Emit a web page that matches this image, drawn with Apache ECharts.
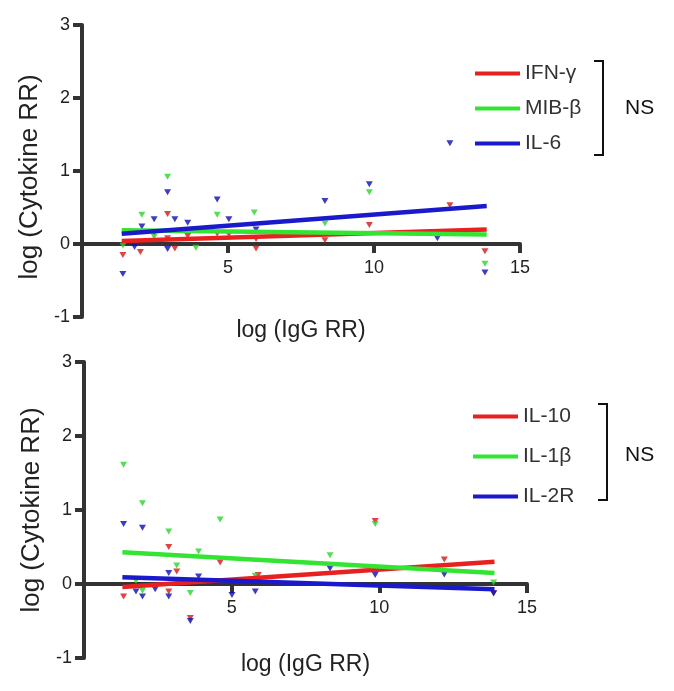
<!DOCTYPE html>
<html>
<head>
<meta charset="utf-8">
<script src="https://cdn.jsdelivr.net/npm/echarts@6/dist/echarts.min.js"></script>
<style>
html,body{margin:0;padding:0;background:#fff;}
#chart{width:674px;height:691px;}
</style>
</head>
<body>
<div id="chart"></div>
<script>
// ---------- data ----------
const xTicks = [0, 5, 10, 15];
const yTicks = [-1, 0, 1, 2, 3];
const xAxisTitle = 'log (IgG RR)';
const yAxisTitle = 'log (Cytokine RR)';

// top panel
const topNames = ['IFN-γ', 'MIB-β', 'IL-6'];
const ifnPts = [[1.4,-0.15],[2.0,-0.11],[2.47,0.15],[2.93,0.41],[2.93,0.08],[3.18,-0.06],[3.62,0.11],[4.63,0.14],[5.03,0.13],[5.96,0.07],[5.96,-0.06],[8.32,0.05],[9.84,0.26],[12.6,0.53],[13.8,-0.1]];
const mibPts = [[1.4,-0.02],[2.05,0.40],[2.47,0.1],[2.93,0.92],[3.9,-0.05],[4.63,0.40],[5.9,0.43],[8.32,0.28],[9.84,0.71],[13.8,-0.27]];
const il6Pts = [[1.4,-0.41],[1.8,-0.04],[2.05,0.24],[2.47,0.34],[2.93,0.71],[2.93,-0.07],[3.18,0.34],[3.62,0.29],[4.63,0.61],[5.03,0.34],[5.96,0.2],[8.32,0.59],[9.84,0.82],[12.17,0.08],[12.6,1.38],[13.8,-0.39]];
const topFitX = [1.36, 13.86];
const ifnFit = [0.04, 0.20];
const mibFit = [0.19, 0.13];
const il6Fit = [0.14, 0.52];

// bottom panel
const botNames = ['IL-10', 'IL-1β', 'IL-2R'];
const il10Pts = [[1.34,-0.17],[2.87,0.5],[2.87,-0.1],[3.14,0.17],[3.6,-0.46],[4.61,0.29],[5.9,0.12],[9.86,0.85],[12.2,0.33],[13.87,-0.12]];
const il1bPts = [[1.34,1.61],[1.76,0.04],[1.98,1.09],[1.98,-0.09],[2.87,0.71],[3.14,0.25],[3.6,-0.12],[3.88,0.44],[4.61,0.87],[5.8,0.11],[8.33,0.39],[9.86,0.81],[13.87,0.02]];
const il2rPts = [[1.34,0.81],[1.76,-0.1],[1.98,0.76],[1.98,-0.17],[2.41,-0.07],[2.87,0.15],[2.87,-0.17],[3.6,-0.5],[3.88,0.1],[5.01,-0.15],[5.8,-0.1],[8.33,0.21],[9.86,0.12],[12.2,0.13],[13.87,-0.13]];
const botFitX = [1.3, 13.9];
const il10Fit = [-0.04, 0.30];
const il1bFit = [0.43, 0.15];
const il2rFit = [0.09, -0.07];

const sigLabel = 'NS';

// ---------- styles ----------
const FONT = '"Liberation Sans", Arial, sans-serif';
const AXIS_COLOR = '#333333';
const lineColors = ['#e82020', '#33e433', '#1a1acc'];
const ptColors = ['#d41515', '#2ad42a', '#0c0cb4'];

function fitData(xs, ys) { return [[xs[0], ys[0]], [xs[1], ys[1]]]; }

function makeXAxis(gi, offset, gap) {
  return {
    gridIndex: gi, type: 'value', position: 'bottom', offset: offset,
    min: xTicks[0], max: xTicks[xTicks.length-1], interval: 5,
    name: xAxisTitle, nameLocation: 'middle', nameGap: gap,
    nameTextStyle: {fontFamily: FONT, fontSize: 23, color: '#222'},
    axisLine: {onZero: false, lineStyle: {color: AXIS_COLOR, width: 4}},
    axisTick: {show: true, inside: false, length: 9, lineStyle: {color: AXIS_COLOR, width: 4}},
    axisLabel: {fontFamily: FONT, fontSize: 18, color: '#222', margin: 15,
      formatter: v => (v === 0 ? '' : String(v))},
    splitLine: {show: false}
  };
}
function makeYAxis(gi, pad) {
  return {
    gridIndex: gi, type: 'value', min: yTicks[0], max: yTicks[yTicks.length-1], interval: 1,
    name: yAxisTitle, nameLocation: 'middle', nameGap: 38,
    nameTextStyle: {fontFamily: FONT, fontSize: 26, color: '#222', padding: pad},
    axisLine: {onZero: false, lineStyle: {color: AXIS_COLOR, width: 4}},
    axisTick: {show: true, inside: false, length: 9, lineStyle: {color: AXIS_COLOR, width: 4}},
    axisLabel: {fontFamily: FONT, fontSize: 18, color: '#222', margin: 12},
    splitLine: {show: false}
  };
}

function scatter(name, pts, ci, gi) {
  return {type: 'scatter', name: name + ' data', xAxisIndex: gi, yAxisIndex: gi, data: pts,
    symbol: 'triangle', symbolRotate: 180, symbolSize: [7, 6],
    itemStyle: {color: ptColors[ci]}, z: 2, silent: true};
}
function fitLine(name, xs, ys, ci, gi) {
  return {type: 'line', name: name, xAxisIndex: gi, yAxisIndex: gi, data: fitData(xs, ys),
    showSymbol: false, symbol: 'none', lineStyle: {color: lineColors[ci], width: 4.5},
    itemStyle: {color: lineColors[ci]}, z: 3, silent: true};
}

const legendBase = {
  orient: 'vertical', icon: 'rect', itemWidth: 45, itemHeight: 4, padding: 0,
  selectedMode: false,
  textStyle: {fontFamily: FONT, fontSize: 21, color: '#333', lineHeight: 21, padding: [0,0,0,0]}
};

const option = {
  animation: false,
  backgroundColor: '#ffffff',
  grid: [
    {left: 82, top: 25, width: 438, height: 292},
    {left: 84, top: 362, width: 443, height: 296}
  ],
  xAxis: [makeXAxis(0, -73, 75), makeXAxis(1, -74, 69)],
  yAxis: [makeYAxis(0, [0, 12, 0, 0]), makeYAxis(1, 0)],
  legend: [
    Object.assign({}, legendBase, {data: topNames, left: 475, top: 63, itemGap: 14}),
    Object.assign({}, legendBase, {data: botNames, left: 473, top: 406, itemGap: 19})
  ],
  graphic: [
    {type: 'polyline', shape: {points: [[594,61],[603,61],[603,155],[594,155]]}, style: {stroke: '#111', lineWidth: 2, fill: null}},
    {type: 'text', left: 625, top: 98, style: {text: sigLabel, font: '21px ' + FONT, fill: '#111'}},
    {type: 'polyline', shape: {points: [[598,404],[607,404],[607,500],[598,500]]}, style: {stroke: '#111', lineWidth: 2, fill: null}},
    {type: 'text', left: 625, top: 445, style: {text: sigLabel, font: '21px ' + FONT, fill: '#111'}}
  ],
  series: [
    scatter(topNames[0], ifnPts, 0, 0),
    scatter(topNames[1], mibPts, 1, 0),
    scatter(topNames[2], il6Pts, 2, 0),
    fitLine(topNames[0], topFitX, ifnFit, 0, 0),
    fitLine(topNames[1], topFitX, mibFit, 1, 0),
    fitLine(topNames[2], topFitX, il6Fit, 2, 0),
    scatter(botNames[0], il10Pts, 0, 1),
    scatter(botNames[1], il1bPts, 1, 1),
    scatter(botNames[2], il2rPts, 2, 1),
    fitLine(botNames[0], botFitX, il10Fit, 0, 1),
    fitLine(botNames[1], botFitX, il1bFit, 1, 1),
    fitLine(botNames[2], botFitX, il2rFit, 2, 1)
  ]
};

const chart = echarts.init(document.getElementById('chart'), null, {renderer: 'canvas'});
chart.setOption(option);
</script>
</body>
</html>
